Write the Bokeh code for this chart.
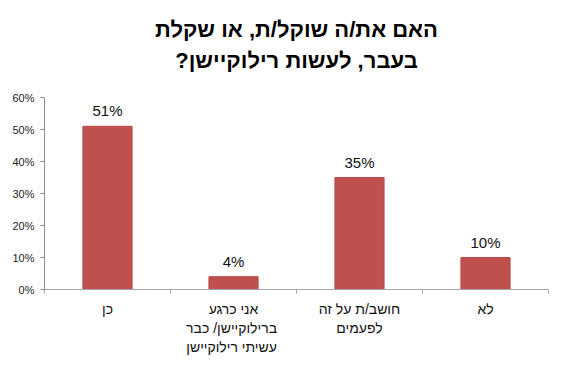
from bokeh.plotting import figure
from bokeh.models import (FactorRange, Range1d, NumeralTickFormatter, FixedTicker,
                          LinearAxis, Title, ColumnDataSource)
from bokeh.embed import file_html
from bokeh.resources import INLINE
from bokeh.core.properties import value

RLM = "\u200f"

title_lines = ["האם את/ה שוקל/ת, או שקלת", "בעבר, לעשות רילוקיישן?"]
categories = ["כן", "אני כרגע ברילוקיישן/ כבר עשיתי רילוקיישן", "חושב/ת על זה לפעמים", "לא"]
category_label_lines = [
    ["כן", "", ""],
    ["אני כרגע", "ברילוקיישן/  כבר", "עשיתי  רילוקיישן"],
    ["חושב/ת על זה", "לפעמים", ""],
    ["לא", "", ""],
]
shares = [0.51, 0.04, 0.35, 0.10]
share_labels = ["51%", "4%", "35%", "10%"]
y_ticks = [0.0, 0.1, 0.2, 0.3, 0.4, 0.5, 0.6]

HEB_FONT = "Liberation Sans"

src = ColumnDataSource(dict(cat=categories, share=shares, label=share_labels))

p = figure(width=562, height=362, x_range=FactorRange(*categories),
           y_range=Range1d(0, 0.6), output_backend="svg", toolbar_location=None,
           x_axis_location=None, min_border_left=44, min_border_right=14,
           min_border_top=97, min_border_bottom=73)
p.outline_line_color = None
p.xgrid.grid_line_color = None
p.ygrid.grid_line_color = None

p.vbar(x="cat", top="share", width=0.39, source=src, fill_color="#C0504D",
       line_color="#B94A47", line_width=1)
p.text(x="cat", y="share", text="label", source=src, y_offset=-7,
       text_align="center", text_baseline="bottom",
       text_font=value(HEB_FONT), text_font_size="15px", text_color="#111111")

# y axis
yax = p.yaxis[0]
yax.ticker = FixedTicker(ticks=y_ticks)
yax.formatter = NumeralTickFormatter(format="0%")
yax.major_tick_in = 0
yax.major_tick_out = 4
yax.minor_tick_line_color = None
yax.axis_line_color = "#8C8C8C"
yax.major_tick_line_color = "#8C8C8C"
yax.major_label_text_font = HEB_FONT
yax.major_label_text_font_size = "11px"
yax.major_label_text_color = "#222222"
yax.major_label_standoff = 6

# x axis: ticks on the category boundaries (synthetic coordinates 0..n)
n = len(categories)
bticks = list(range(n + 1))
bax = LinearAxis(ticker=FixedTicker(ticks=bticks),
                 major_label_overrides={t: "" for t in bticks},
                 major_label_text_font_size="0px", major_label_standoff=0,
                 major_tick_in=0, major_tick_out=4, minor_tick_line_color=None,
                 axis_line_color="#A6A6A6", major_tick_line_color="#A6A6A6")
p.add_layout(bax, "below")

# category labels: one stacked axis per text line, ticks at category centres
centres = [i + 0.5 for i in range(n)]
for k in range(3):
    overrides = {c: (RLM + lines[k] + RLM if lines[k] else " ")
                 for c, lines in zip(centres, category_label_lines)}
    cax = LinearAxis(ticker=FixedTicker(ticks=centres), axis_line_color=None,
                     major_tick_line_color=None, minor_tick_line_color=None,
                     major_tick_in=0, major_tick_out=0,
                     major_label_overrides=overrides,
                     major_label_text_font=HEB_FONT, major_label_text_font_size="14px",
                     major_label_text_color="#111111",
                     major_label_standoff=7 if k == 0 else 0)
    p.add_layout(cax, "below")

# spacer between the frame and the title block
p.add_layout(Title(text=" ", text_font_size="14px", standoff=7), "above")
# title lines (added nearest-first)
for line, so in zip(reversed(title_lines), [0, 7]):
    p.add_layout(Title(text=RLM + line + RLM, align="center",
                       text_font=HEB_FONT, text_font_size="22px", text_font_style="bold",
                       text_color="#000000", standoff=so), "above")

open("out.html", "w").write(file_html(p, INLINE))
